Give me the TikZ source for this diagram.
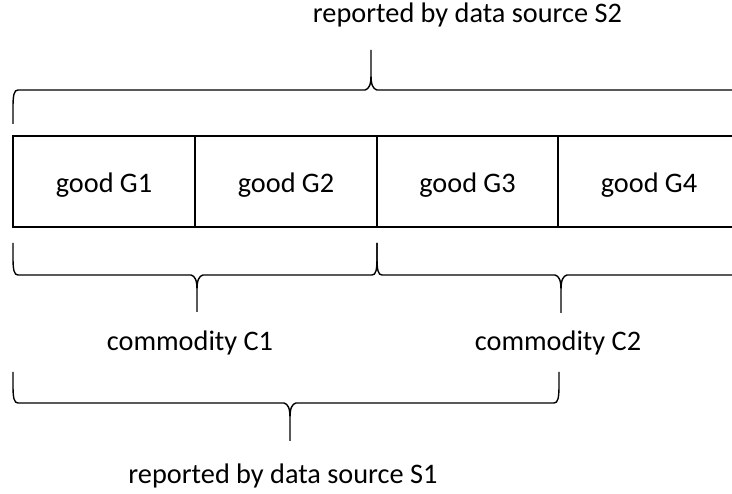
\documentclass[tikz,border=0pt]{standalone}
\usepackage{fontspec}
\setmainfont{Carlito}

% Horizontal curly brace: #1 left x, #2 right x, #3 tip x,
% #4 y of the feet ends, #5 y of the long stroke, #6 y of the tip.
\newcommand\hbrace[6]{%
  \pgfmathsetmacro\bsgn{(#6>#5)?1:-1}%
  \pgfmathsetmacro\ytipa{#5+\bsgn*15}%
  \pgfmathsetmacro\ytipb{#5+\bsgn*5}%
  \pgfmathsetmacro\ytipc{#5+\bsgn*1}%
  \pgfmathsetmacro\yfoota{#5-\bsgn*18}%
  \pgfmathsetmacro\yfootb{#5-\bsgn*5}%
  \draw[brace]
    (#3,#6) -- (#3,\ytipa)
      .. controls (#3,\ytipb) and (#3-2,\ytipc) .. (#3-6,#5)
      -- (#1+5,#5)
      .. controls (#1+1,#5) and (#1,\yfootb) .. (#1,\yfoota)
      -- (#1,#4)
    (#3,\ytipa)
      .. controls (#3,\ytipb) and (#3+2,\ytipc) .. (#3+6,#5)
      -- (#2-5,#5)
      .. controls (#2-1,#5) and (#2,\yfootb) .. (#2,\yfoota)
      -- (#2,#4);%
}

\begin{document}
\begin{tikzpicture}[x=1pt,y=-1pt,
  txt/.style={font=\fontsize{28.3}{34}\selectfont},
  lbl/.style={txt, anchor=base, inner sep=0pt},
  goodbox/.style={txt, draw, line width=1.3pt, minimum width=182pt,
    minimum height=91pt, inner sep=0pt, text height=26pt, text depth=3pt},
  brace/.style={line width=1.4pt, line join=round}]
\useasboundingbox (0,0) rectangle (732,494);

% row of goods
\node[goodbox] (g1) at (104,181.5) {good G1};
\node[goodbox] (g2) at (286,181.5) {good G2};
\node[goodbox] (g3) at (467.5,181.5) {good G3};
\node[goodbox] (g4) at (649,181.5) {good G4};

% braces
\hbrace{13}{760}{371}{124}{90}{50}
\hbrace{13}{377}{197}{243}{275}{312}
\hbrace{377}{760}{561}{243}{275}{313}
\hbrace{13}{559}{290}{372}{403}{441}

% labels
\node[lbl] (s2) at (467.5,23) {reported by data source S2};
\node[lbl] (c1) at (190,351) {commodity C1};
\node[lbl] (c2) at (558,351) {commodity C2};
\node[lbl] (s1) at (283,484) {reported by data source S1};
\end{tikzpicture}
\end{document}
